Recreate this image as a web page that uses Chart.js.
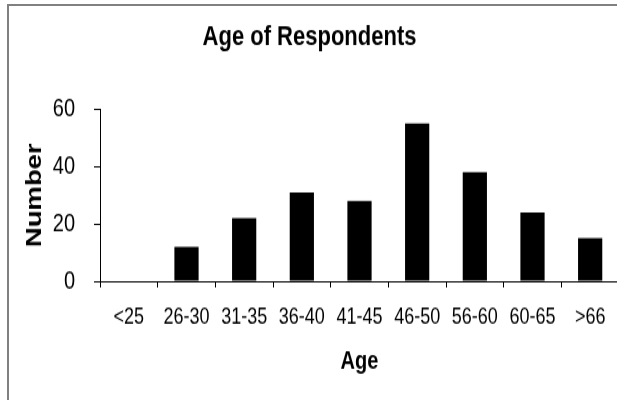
<!DOCTYPE html>
<html>
<head>
<meta charset="utf-8">
<script src="https://cdn.jsdelivr.net/npm/chart.js@4"></script>
<style>
  html, body { margin: 0; padding: 0; background: #fff; }
  body { width: 617px; height: 400px; overflow: hidden; position: relative; }
  /* the reference frame: grey top + left edge only, the rest is cropped */
  #frame {
    position: absolute; left: 7px; top: 4px; width: 700px; height: 500px;
    border-top: 2px solid #808080; border-left: 2px solid #808080;
  }
  /* the reference picture is stretched vertically, so draw flat and stretch */
  #chart {
    position: absolute; left: 0; top: 0;
    transform: scaleY(1.25); transform-origin: 0 0;
  }
</style>
</head>
<body>
<div id="frame"></div>
<canvas id="chart" width="630" height="320"></canvas>
<script>
'use strict';

// ─── Data ─────────────────────────────────────────────────────────────────────
const ageGroups   = ['<25', '26-30', '31-35', '36-40', '41-45', '46-50', '56-60', '60-65', '>66'];
const respondents = [0, 12, 22, 31, 28, 55, 38, 24, 15];
const yTicks      = [0, 20, 40, 60];

const FONT = "'Liberation Sans', Arial, sans-serif";

// ─── Chart ────────────────────────────────────────────────────────────────────
const ctx = document.getElementById('chart').getContext('2d');
new Chart(ctx, {
  type: 'bar',
  data: {
    labels: ageGroups,
    datasets: [{
      data:               respondents,
      backgroundColor:    '#000000',
      borderWidth:        0,
      barPercentage:      0.42,
      categoryPercentage: 1.0,
    }],
  },
  options: {
    responsive: false,
    animation:  false,
    layout: { padding: { left: 0, right: 11, top: 0, bottom: 0 } },
    plugins: {
      legend:  { display: false },
      tooltip: { enabled: false },
      title: {
        display: true,
        text:    'Age of Respondents',
        color:   '#000',
        font:    { family: FONT, size: 22, weight: 'bold' },
        padding: { top: 17, bottom: 44 },
      },
    },
    scales: {
      x: {
        grid:   { display: true, drawOnChartArea: false, drawTicks: true, tickLength: 5, color: '#000', offset: true },
        border: { display: true, color: '#000', width: 1 },
        ticks:  { color: '#000', font: { family: FONT, size: 18 }, padding: 13, maxRotation: 0, autoSkip: false },
        title:  {
          display: true, text: 'Age', color: '#000',
          font: { family: FONT, size: 20, weight: 'bold' },
          padding: { top: 0, bottom: 19 },
        },
        afterFit: (scale) => { scale.height = 95; },
      },
      y: {
        min: 0,
        max: 60,
        afterBuildTicks: (scale) => { scale.ticks = yTicks.map(v => ({ value: v })); },
        grid:   { display: true, drawOnChartArea: false, drawTicks: true, tickLength: 6, color: '#000' },
        border: { display: true, color: '#000', width: 1 },
        ticks:  { color: '#000', font: { family: FONT, size: 20 }, padding: 19 },
        title:  {
          display: true, text: 'Number', color: '#000',
          font: { family: FONT, size: 22, weight: 'bold' },
          padding: { top: 22, bottom: 0 },
        },
        afterFit: (scale) => { scale.width = 100; },
      },
    },
  },
});
</script>
</body>
</html>
